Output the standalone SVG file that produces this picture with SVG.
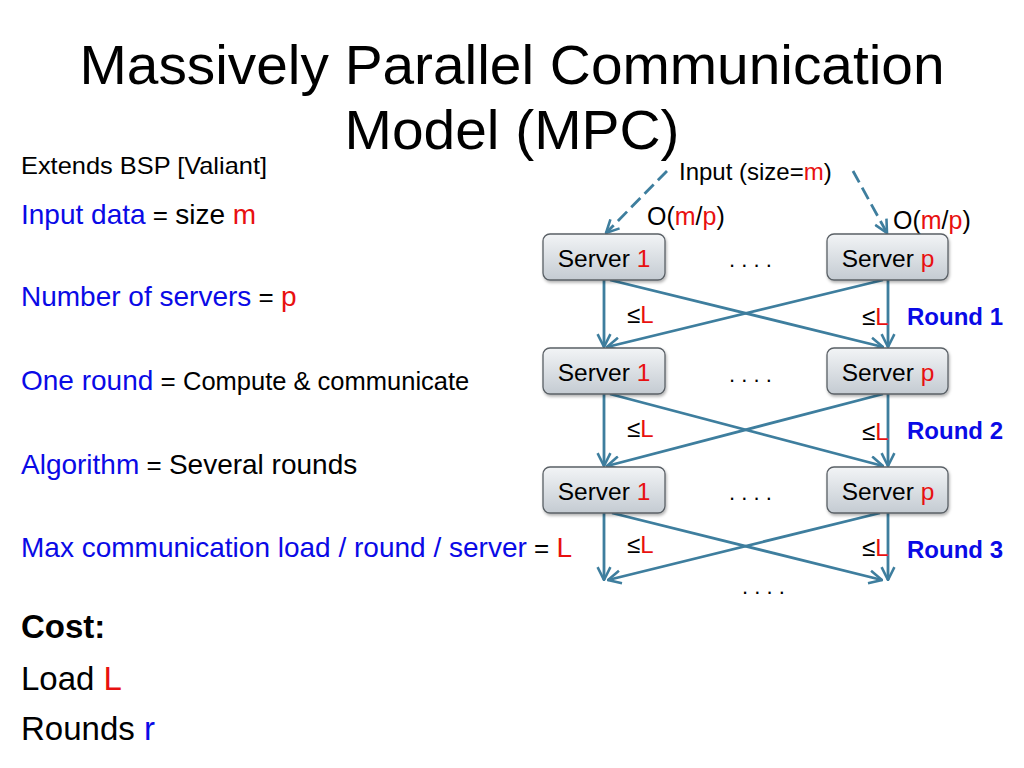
<svg xmlns="http://www.w3.org/2000/svg" width="1024" height="768" viewBox="0 0 1024 768">
<defs>
<style>
text{font-family:"Liberation Sans",Arial,sans-serif;fill:#000}
.title{font-size:56px}
.b{fill:#0a0ae6}
.r{fill:#e81010}
.eq{font-size:26px}
.t28{font-size:28px}
.t24{font-size:24px}
.t33{font-size:33px}
.srv{font-size:24.5px}
.rnd{font-size:24px;font-weight:bold;fill:#0a0ae6}
.box{fill:url(#g);stroke:#5a6066;stroke-width:1.3}
.conn{stroke:#3e7e9e;stroke-width:2.8;fill:none;marker-end:url(#ah)}
.dash{stroke:#3e7e9e;stroke-width:2.8;fill:none;stroke-dasharray:13 6;marker-end:url(#ah)}
</style>
<linearGradient id="g" x1="0" y1="0" x2="0" y2="1">
<stop offset="0" stop-color="#f2f4f6"/>
<stop offset="1" stop-color="#c4cbd2"/>
</linearGradient>
<filter id="sh" x="-10%" y="-10%" width="130%" height="140%">
<feDropShadow dx="1" dy="2" stdDeviation="1.5" flood-color="#000" flood-opacity="0.3"/>
</filter>
<marker id="ah" viewBox="0 0 12 12" refX="11" refY="6" markerWidth="5.5" markerHeight="5.5" markerUnits="strokeWidth" orient="auto">
<path d="M1,1 L11,6 L1,11" fill="none" stroke="#3e7e9e" stroke-width="2"/>
</marker>
</defs>
<rect width="1024" height="768" fill="#fff"/>

<g id="title">
<text class="title" x="512" y="84" text-anchor="middle" textLength="865" lengthAdjust="spacingAndGlyphs">Massively Parallel Communication</text>
<text class="title" x="512" y="149" text-anchor="middle" textLength="335" lengthAdjust="spacingAndGlyphs">Model (MPC)</text>
</g>

<g id="left-text">
<text x="21" y="174" class="t24" textLength="246" lengthAdjust="spacingAndGlyphs">Extends BSP [Valiant]</text>
<text x="21" y="224" class="t28"><tspan class="b">Input data</tspan><tspan class="eq"> = </tspan><tspan>size </tspan><tspan class="r">m</tspan></text>
<text x="21" y="306" class="t28"><tspan class="b">Number of servers</tspan><tspan class="eq"> = </tspan><tspan class="r">p</tspan></text>
<text x="21" y="390" class="t28"><tspan class="b">One round</tspan><tspan class="eq"> = </tspan><tspan font-size="25.5">Compute &amp; communicate</tspan></text>
<text x="21" y="474" class="t28"><tspan class="b">Algorithm</tspan><tspan class="eq"> = </tspan><tspan>Several rounds</tspan></text>
<text x="21" y="557" class="t28"><tspan class="b">Max communication load / round / server</tspan><tspan class="eq"> = </tspan><tspan class="r">L</tspan></text>
<text x="21" y="638" class="t33" font-weight="bold">Cost:</text>
<text x="21" y="690" class="t33">Load <tspan class="r">L</tspan></text>
<text x="21" y="740" class="t33">Rounds <tspan class="b">r</tspan></text>
</g>

<g id="connectors">
<line class="dash" x1="667" y1="171" x2="606" y2="233"/>
<line class="dash" x1="853" y1="171" x2="887" y2="233"/>
<line class="conn" x1="604" y1="280" x2="604" y2="347"/>
<line class="conn" x1="888" y1="280" x2="888" y2="347"/>
<line class="conn" x1="610" y1="280" x2="883" y2="347"/>
<line class="conn" x1="883" y1="280" x2="607" y2="347"/>
<line class="conn" x1="604" y1="394" x2="604" y2="466"/>
<line class="conn" x1="888" y1="394" x2="888" y2="466"/>
<line class="conn" x1="610" y1="394" x2="883" y2="466"/>
<line class="conn" x1="883" y1="394" x2="607" y2="466"/>
<line class="conn" x1="604" y1="513" x2="604" y2="580"/>
<line class="conn" x1="888" y1="513" x2="888" y2="580"/>
<line class="conn" x1="612" y1="513" x2="882" y2="580"/>
<line class="conn" x1="880" y1="513" x2="608" y2="580"/>
</g>

<g id="input-label">
<text x="679" y="180" class="t24">Input (size=<tspan class="r">m</tspan>)</text>
<text x="647" y="225" font-size="25">O(<tspan class="r">m</tspan>/<tspan class="r">p</tspan>)</text>
<text x="893" y="229" font-size="25">O(<tspan class="r">m</tspan>/<tspan class="r">p</tspan>)</text>
</g>

<g id="server-1-r1"><rect class="box" filter="url(#sh)" x="543" y="234" width="122" height="46" rx="7"/><text class="srv" x="604" y="267" text-anchor="middle">Server <tspan class="r">1</tspan></text></g>
<g id="server-p-r1"><rect class="box" filter="url(#sh)" x="827" y="234" width="121" height="46" rx="7"/><text class="srv" x="888" y="267" text-anchor="middle">Server <tspan class="r">p</tspan></text></g>
<g id="server-1-r2"><rect class="box" filter="url(#sh)" x="543" y="348" width="122" height="46" rx="7"/><text class="srv" x="604" y="381" text-anchor="middle">Server <tspan class="r">1</tspan></text></g>
<g id="server-p-r2"><rect class="box" filter="url(#sh)" x="827" y="348" width="121" height="46" rx="7"/><text class="srv" x="888" y="381" text-anchor="middle">Server <tspan class="r">p</tspan></text></g>
<g id="server-1-r3"><rect class="box" filter="url(#sh)" x="543" y="467" width="122" height="46" rx="7"/><text class="srv" x="604" y="500" text-anchor="middle">Server <tspan class="r">1</tspan></text></g>
<g id="server-p-r3"><rect class="box" filter="url(#sh)" x="827" y="467" width="121" height="46" rx="7"/><text class="srv" x="888" y="500" text-anchor="middle">Server <tspan class="r">p</tspan></text></g>

<g id="dots" font-size="22">
<text x="729" y="267">. . . .</text>
<text x="729" y="382">. . . .</text>
<text x="729" y="500">. . . .</text>
<text x="742" y="594">. . . .</text>
</g>

<g id="labels" class="t24">
<text x="627" y="323" class="t24">≤<tspan class="r">L</tspan></text>
<text x="862" y="325" class="t24">≤<tspan class="r">L</tspan></text>
<text x="627" y="437" class="t24">≤<tspan class="r">L</tspan></text>
<text x="862" y="440" class="t24">≤<tspan class="r">L</tspan></text>
<text x="627" y="553" class="t24">≤<tspan class="r">L</tspan></text>
<text x="862" y="556" class="t24">≤<tspan class="r">L</tspan></text>
<text x="907" y="325" class="rnd">Round 1</text>
<text x="907" y="439" class="rnd">Round 2</text>
<text x="907" y="558" class="rnd">Round 3</text>
</g>
</svg>
